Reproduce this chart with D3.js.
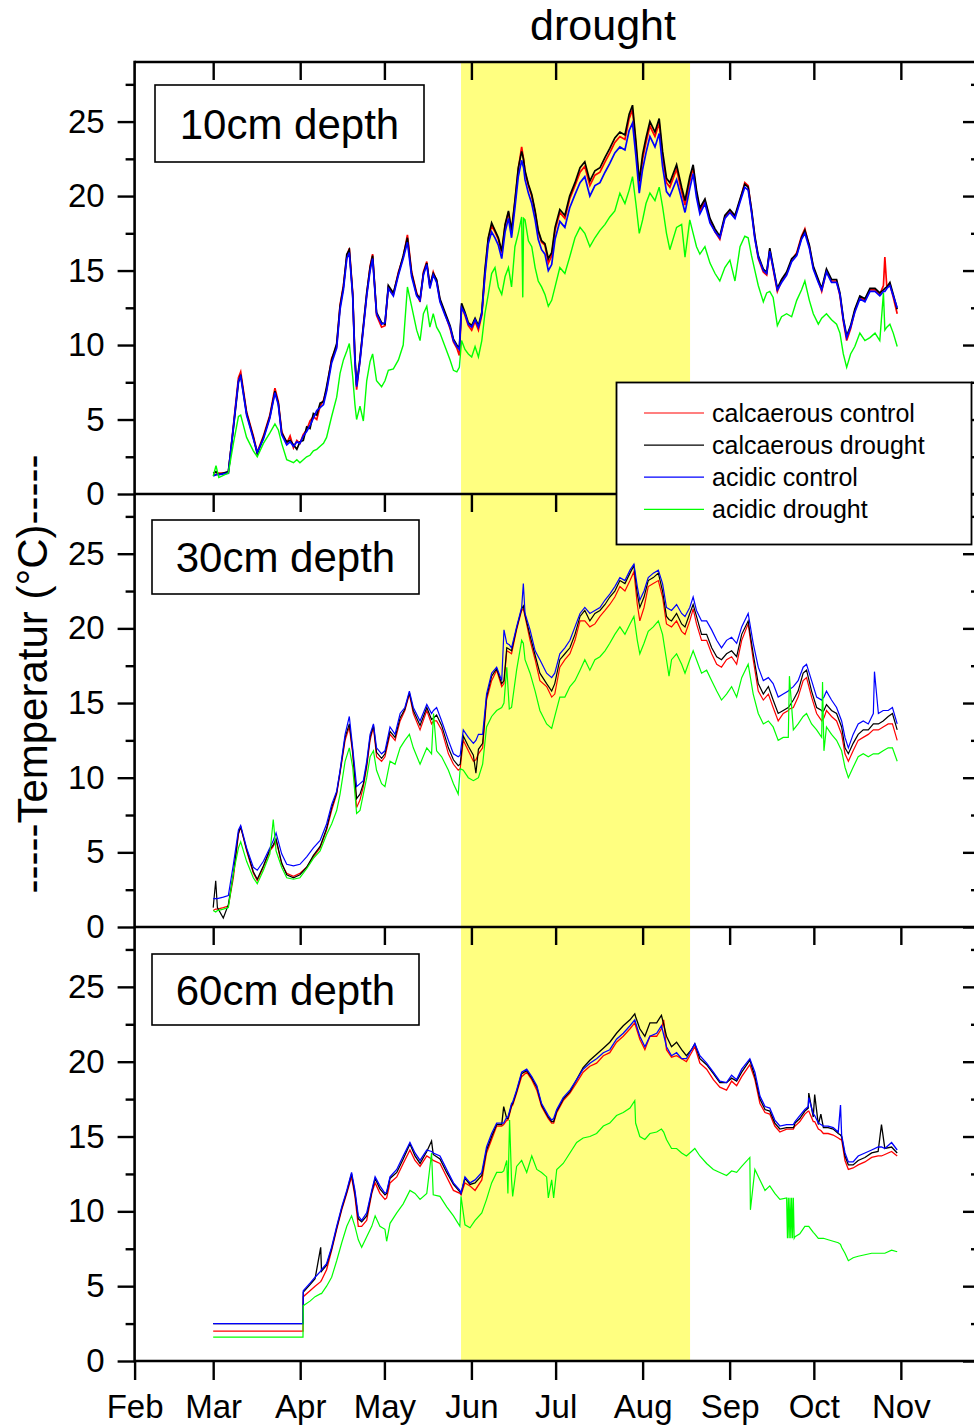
<!DOCTYPE html>
<html>
<head>
<meta charset="utf-8">
<script src="https://cdn.jsdelivr.net/npm/d3@7"></script>
<style>
  body { margin: 0; background: #fff; }
  #chart text { font-family: "Liberation Sans", Arial, sans-serif; fill: #000; }
</style>
</head>
<body>
<div id="chart"></div>
<script>
// days counted from 1 Feb
var monthLabels = ["Feb", "Mar", "Apr", "May", "Jun", "Jul", "Aug", "Sep", "Oct", "Nov"];
var yTicks = [0, 5, 10, 15, 20, 25];
var yMinor = [2.5, 7.5, 12.5, 17.5, 22.5, 27.5];
var droughtDays = [116.3, 197.9];
var seriesNames = ["calcaerous control", "calcaerous drought", "acidic control", "acidic drought"];
var depthLabels = ["10cm depth", "30cm depth", "60cm depth"];

// ---- 10 cm ----
var days10 = [28.0,29.0,30.0,33.4,35.2,37.0,37.8,39.9,42.3,43.7,45.9,48.2,50.0,51.2,52.4,54.2,55.4,56.6,57.8,58.9,60.1,61.3,62.5,63.7,64.9,66.1,67.3,68.4,70.2,72.0,73.2,74.4,75.6,76.5,77.7,78.5,79.1,80.3,81.5,82.7,83.9,84.8,86.2,88.0,89.2,90.4,92.2,94.0,95.7,97.2,98.7,100.5,101.7,102.9,104.1,105.2,106.4,107.6,108.8,110.6,112.4,113.6,114.8,115.7,116.5,117.7,118.9,120.1,121.3,122.5,123.7,124.8,126.0,127.2,128.4,129.6,130.8,132.0,133.2,134.3,135.5,136.7,137.9,138.3,138.6,139.1,140.3,141.5,142.7,143.8,145.0,146.2,147.4,148.6,149.8,151.5,153.3,155.0,156.9,158.7,160.4,162.2,164.0,165.8,167.6,169.3,171.1,172.9,174.7,176.2,177.4,178.6,179.8,181.0,182.2,183.6,185.4,186.9,188.1,189.5,190.7,193.1,194.9,196.1,197.8,199.0,200.2,201.4,203.2,205.0,206.8,208.5,210.3,212.1,213.9,215.7,217.4,218.6,219.8,221.0,222.2,224.0,225.2,226.3,227.5,229.0,230.5,232.3,234.1,235.9,237.6,238.8,240.4,241.8,243.6,244.8,246.5,248.3,250.1,251.3,252.5,253.7,255.1,256.6,258.4,260.2,262.0,263.8,265.5,266.8,267.3,268.0,269.1,270.3,271.7];
var calcControl10 = [1.3,1.3,1.4,1.4,4.6,7.8,8.2,5.5,3.9,2.8,3.9,5.3,7.1,6.2,4.2,3.4,3.9,3.1,3.6,3.4,4.0,4.3,4.9,5.2,5.0,5.9,6.3,7.0,9.1,9.9,12.7,14.0,15.9,16.5,13.5,9.0,7.0,9.0,11.2,13.4,15.3,16.1,12.0,11.2,11.3,13.9,13.4,14.9,15.9,17.4,14.9,13.5,12.9,14.9,15.6,13.9,14.9,14.3,13.0,12.1,11.1,10.2,9.8,9.3,12.6,12.0,11.3,11.0,11.6,11.0,12.0,14.8,17.1,18.0,17.6,17.1,16.2,18.0,18.9,17.6,19.6,21.8,23.3,22.8,22.5,21.6,20.7,20.0,18.9,17.6,16.9,16.7,15.5,16.0,17.7,18.9,18.5,19.8,20.7,21.6,22.0,20.7,21.4,21.6,22.3,22.9,23.6,24.0,23.8,25.2,25.8,23.4,20.7,22.5,23.6,24.7,24.0,24.9,22.7,20.9,20.6,21.8,20.3,19.4,21.0,21.9,20.2,19.0,19.7,18.4,17.6,17.1,18.6,19.0,18.6,19.7,20.9,20.7,19.0,17.2,15.8,14.9,14.7,16.4,15.1,13.6,14.3,14.8,15.7,16.2,17.3,17.8,16.6,15.2,14.3,13.6,15.0,14.3,14.3,13.3,11.6,10.3,11.1,12.3,13.2,13.0,13.7,13.7,13.4,14.0,15.9,13.9,14.1,13.2,12.1];
var calcDrought10 = [1.4,1.5,1.3,1.5,4.4,7.5,8.0,5.4,3.8,2.7,3.8,5.2,6.9,6.1,4.1,3.5,3.6,3.3,3.0,3.5,3.6,4.5,4.4,5.4,5.3,6.1,6.2,7.2,9.0,10.1,12.6,13.9,16.1,16.4,13.4,9.2,7.3,9.1,11.3,13.5,15.2,16.0,12.2,11.5,11.4,14.0,13.5,14.8,16.0,17.2,14.8,13.4,13.1,14.8,15.5,14.0,14.8,14.4,13.1,12.2,11.3,10.4,10.0,9.8,12.8,12.2,11.5,11.3,11.8,11.3,12.2,15.0,17.2,18.2,17.7,17.2,16.3,18.1,19.0,17.7,19.7,21.9,23.0,22.7,22.4,21.7,20.8,20.1,19.0,17.7,17.0,16.8,15.8,16.2,17.9,19.1,18.7,20.0,20.9,21.9,22.3,21.0,21.7,21.9,22.6,23.2,23.9,24.3,24.1,25.5,26.1,23.7,21.0,22.8,23.9,25.0,24.3,25.2,23.0,21.2,20.9,22.1,20.6,19.7,21.3,22.1,20.4,19.2,19.8,18.5,17.8,17.3,18.7,19.1,18.7,19.8,20.8,20.6,19.1,17.3,16.0,15.1,14.9,16.5,15.3,13.8,14.4,14.9,15.8,16.1,17.2,17.7,16.7,15.3,14.4,13.8,15.1,14.4,14.4,13.5,11.8,10.6,11.3,12.4,13.3,13.1,13.8,13.8,13.5,13.7,13.8,13.9,14.2,13.4,12.4];
var acidControl10 = [1.2,1.3,1.3,1.4,4.5,7.6,7.9,5.3,3.7,2.8,3.7,5.1,6.8,6.0,4.0,3.3,3.5,3.2,3.5,3.4,3.9,4.2,4.6,5.1,5.6,5.8,6.0,6.9,8.8,9.8,12.4,13.7,15.8,16.2,13.3,8.9,7.2,8.9,11.1,13.3,15.0,15.8,12.1,11.4,11.5,13.8,13.3,14.7,15.8,16.9,14.6,13.3,13.0,14.7,15.4,13.8,14.7,14.2,12.9,12.0,11.2,10.3,9.9,9.7,12.5,12.1,11.4,11.2,11.7,11.2,12.1,14.6,16.8,17.6,17.2,16.7,15.8,17.6,18.5,17.2,19.2,21.3,22.4,22.1,21.9,21.1,20.2,19.5,18.4,17.1,16.4,16.1,15.0,15.4,17.1,18.3,17.9,19.2,20.1,20.9,21.3,20.0,20.7,20.9,21.6,22.2,22.9,23.3,23.1,24.4,24.9,22.7,20.2,21.8,22.9,24.0,23.3,24.2,22.0,20.3,20.0,21.1,19.8,18.9,20.5,21.5,19.9,18.8,19.5,18.2,17.6,17.2,18.5,18.9,18.5,19.6,20.6,20.4,18.9,17.1,15.9,15.0,14.8,16.3,15.2,13.7,14.2,14.7,15.6,16.0,17.1,17.5,16.5,15.1,14.2,13.7,14.9,14.2,14.2,13.4,11.7,10.5,11.2,12.2,13.1,12.9,13.6,13.6,13.3,13.6,13.6,13.8,14.0,13.3,12.5];
var acidDrought10 = [1.2,1.9,1.1,1.4,3.4,5.2,5.3,3.8,2.9,2.5,3.4,4.1,4.7,4.3,3.4,2.3,2.2,2.1,2.3,2.1,2.3,2.5,2.6,2.9,3.0,3.2,3.4,3.8,5.2,6.5,8.1,9.0,9.6,10.1,7.9,6.0,5.0,5.9,4.9,7.6,8.9,9.4,7.6,7.2,7.6,8.3,8.4,9.0,10.0,13.9,12.6,11.0,10.3,12.1,12.6,11.2,12.1,11.2,10.8,9.9,9.0,8.3,8.2,8.5,10.3,9.7,9.4,9.2,9.9,9.2,10.3,12.1,13.4,14.8,15.2,13.9,13.4,14.6,15.2,13.9,16.6,17.5,18.6,13.2,18.5,18.4,17.0,16.6,15.2,14.3,13.9,13.4,12.6,13.0,13.9,15.2,14.8,15.9,17.2,17.9,17.5,16.6,17.2,17.7,18.1,18.6,19.0,20.2,19.5,20.4,21.3,19.5,17.5,18.4,19.5,20.2,19.7,20.6,19.3,17.5,16.4,17.9,18.1,15.9,18.4,17.5,16.6,16.1,16.6,15.5,14.8,14.3,15.2,15.7,14.3,16.6,17.3,17.2,16.0,15.0,14.0,12.9,13.5,13.6,13.2,11.3,11.9,12.1,11.9,13.0,13.7,14.3,13.0,12.1,11.4,11.8,12.1,11.7,11.4,10.8,9.4,8.5,9.4,9.9,10.8,10.3,10.5,10.8,10.3,13.5,11.0,11.2,11.4,10.8,9.9];

// ---- 30 cm ----
var days30 = [28.0,28.9,29.5,31.6,33.4,35.2,37.0,37.8,39.9,42.3,43.7,45.9,48.2,49.4,50.4,52.4,54.2,56.6,58.9,61.3,63.7,66.1,68.4,70.2,72.0,73.2,75.0,76.5,77.7,79.1,80.3,81.5,82.7,83.9,85.1,86.2,88.0,89.2,91.0,92.8,94.6,96.3,97.9,99.3,101.7,104.1,105.8,106.5,107.6,109.4,111.8,113.6,115.3,116.0,117.1,118.9,120.7,121.6,122.5,124.0,125.4,127.2,129.0,130.8,131.6,132.6,133.5,134.3,136.1,137.9,138.5,139.1,140.9,142.7,144.4,146.8,148.6,149.7,151.5,153.3,155.1,156.9,158.7,160.4,162.2,164.0,165.8,167.6,169.3,171.1,172.9,174.7,176.5,177.9,179.1,180.0,181.5,183.0,184.8,186.6,188.1,189.5,190.4,191.3,193.1,194.9,196.1,197.8,199.0,200.2,202.0,203.8,205.6,207.4,209.1,210.9,212.7,214.5,216.3,218.6,220.4,222.2,224.0,225.8,227.5,229.3,231.1,232.9,233.3,234.7,236.4,238.2,239.4,241.2,243.0,244.8,245.1,245.6,246.5,248.3,250.1,251.9,253.1,254.3,256.0,257.8,259.6,261.4,263.2,263.6,265.0,266.7,268.5,270.0,271.7];
var calcControl30 = [1.1,1.2,1.2,1.3,1.4,3.3,6.2,6.7,5.1,3.6,3.1,4.0,5.1,5.4,5.8,4.2,3.6,3.4,3.6,4.0,4.7,5.3,6.5,7.8,8.9,10.3,12.5,13.4,11.6,8.0,8.5,9.4,10.7,12.5,13.4,11.4,11.1,11.4,12.9,12.5,13.8,14.5,15.6,14.3,13.2,14.5,13.6,13.8,13.8,13.2,11.6,10.9,10.5,10.6,12.5,11.8,11.1,11.2,11.6,12.0,15.2,16.5,17.2,16.1,16.3,18.5,18.4,18.3,19.9,21.2,21.3,20.8,19.2,17.9,16.5,16.1,15.4,15.6,17.4,17.9,18.3,19.2,20.5,20.5,20.1,20.3,20.8,21.2,21.6,22.1,22.8,22.5,23.2,23.8,21.6,20.5,21.4,22.8,23.0,23.2,22.1,20.3,20.2,20.1,20.5,19.8,19.6,20.5,21.3,20.3,19.2,19.2,18.3,17.6,17.4,17.9,18.1,17.6,19.2,20.3,17.9,15.8,15.2,15.6,14.7,13.8,14.3,14.5,14.6,14.7,15.4,16.5,16.7,15.4,14.3,13.8,13.9,14.0,14.5,14.1,13.8,12.9,11.6,11.1,11.8,12.5,12.7,12.9,13.2,13.2,13.2,13.4,13.6,13.6,12.5];
var calcDrought30 = [1.3,3.1,1.3,0.6,1.5,3.6,6.3,6.7,5.2,3.7,3.2,4.1,5.2,5.5,5.9,4.3,3.5,3.3,3.5,4.0,4.8,5.4,6.6,8.0,9.0,10.4,12.7,13.6,11.8,8.6,8.9,9.6,10.9,12.7,13.5,11.7,11.3,11.6,13.1,12.7,14.0,14.6,15.7,14.5,13.5,14.7,13.9,14.0,14.2,13.5,12.0,11.2,10.8,10.9,12.8,12.1,11.5,10.3,11.9,12.3,15.4,16.8,17.3,16.3,16.5,18.7,18.6,18.5,20.0,21.3,21.5,20.9,19.5,18.2,17.0,16.3,15.8,16.3,17.9,18.3,18.7,19.6,20.8,21.2,20.5,21.0,21.2,21.6,22.1,22.5,23.2,23.0,23.7,24.2,22.3,21.4,22.1,23.2,23.4,23.7,22.5,20.8,20.6,20.5,21.0,20.3,20.1,21.0,21.6,20.8,19.6,19.6,18.7,18.1,17.9,18.3,18.5,18.1,19.6,20.5,18.3,16.3,15.6,16.1,15.2,14.3,14.5,14.7,14.8,15.2,15.8,17.0,17.2,15.8,14.7,14.5,14.4,14.5,14.9,14.5,14.3,13.4,12.0,11.6,12.3,12.9,13.2,13.2,13.6,13.6,13.6,13.8,14.1,14.3,13.2];
var acidControl30 = [1.9,1.9,1.9,2.0,2.1,4.2,6.5,6.8,5.3,4.0,3.8,4.4,5.3,5.8,6.3,4.9,4.2,4.1,4.2,4.7,5.3,5.8,6.9,8.2,9.1,10.5,12.9,14.1,12.0,9.4,9.6,9.8,11.1,12.9,13.6,12.0,11.6,11.8,13.4,12.9,14.3,14.7,15.8,14.7,13.8,14.9,14.3,14.5,14.7,13.8,12.5,11.6,11.4,11.5,13.2,12.7,12.3,12.5,12.9,12.9,15.6,17.0,17.4,16.5,19.9,19.0,18.9,18.7,20.1,21.4,23.0,21.0,19.9,18.5,17.9,17.0,16.7,17.0,18.3,18.7,19.2,20.1,21.0,21.4,21.0,21.2,21.4,21.9,22.3,22.8,23.4,23.2,23.9,24.3,22.8,21.9,22.5,23.4,23.7,23.9,23.0,21.4,21.3,21.2,21.6,21.0,20.8,21.4,22.1,21.2,20.5,20.5,19.9,19.2,18.7,19.2,19.4,19.0,20.1,21.0,19.0,17.4,16.5,16.7,16.3,15.4,15.6,15.8,15.9,16.1,16.5,17.4,17.6,16.5,15.4,15.2,15.3,15.4,15.8,15.2,14.7,13.8,12.7,12.0,12.9,13.6,13.8,13.6,14.3,17.1,14.3,14.5,14.5,14.7,13.6];
var acidDrought30 = [1.1,1.0,1.1,1.2,1.3,3.6,5.3,5.7,4.4,3.3,2.9,3.8,4.9,7.2,5.1,4.0,3.3,3.2,3.3,3.9,4.6,5.1,6.2,6.9,7.8,8.9,11.1,12.0,10.7,7.6,7.8,8.9,10.0,11.4,11.8,10.5,9.6,9.4,11.1,10.9,12.0,12.5,12.9,12.0,10.9,12.0,11.6,14.3,11.8,11.4,10.5,9.6,8.9,10.6,10.5,10.0,9.8,9.9,10.0,10.9,13.4,14.1,14.5,14.7,15.0,17.4,14.6,14.7,17.2,19.2,19.0,17.9,17.0,15.8,14.5,13.6,13.3,14.1,15.4,15.4,16.1,16.5,17.2,17.9,17.2,17.9,18.1,18.5,19.0,19.6,20.1,19.6,20.3,20.8,19.2,18.3,19.0,19.8,20.1,20.5,19.6,17.9,16.8,17.9,18.3,17.6,17.0,17.9,18.5,17.9,17.0,17.2,16.5,15.8,15.2,15.6,16.1,15.4,16.7,17.6,15.6,14.3,13.6,13.8,13.4,12.5,12.7,12.7,16.8,13.2,13.6,14.1,14.3,13.6,13.2,12.7,16.4,11.8,13.4,12.9,12.5,11.8,10.7,10.0,10.7,11.4,11.6,11.4,11.6,11.6,11.6,11.8,12.0,12.0,11.1];

// ---- 60 cm ----
var days60 = [28.0,60.0,60.1,62.5,64.3,66.3,66.6,68.4,70.2,72.0,73.8,75.6,77.3,78.5,79.7,80.9,82.7,84.5,85.7,87.4,89.2,89.8,91.0,93.4,95.7,98.1,99.9,101.7,104.1,105.8,106.4,108.8,111.2,113.6,115.9,116.3,117.7,119.5,121.3,123.7,125.4,127.2,129.0,130.8,131.5,132.6,133.0,133.6,134.3,134.7,136.1,137.9,139.7,141.5,143.3,145.0,146.8,147.4,148.6,149.3,150.4,152.7,155.1,157.5,159.8,162.2,164.6,167.0,169.3,171.7,174.1,176.5,178.2,178.5,180.0,181.8,183.6,186.0,187.7,188.5,189.5,191.3,193.1,194.9,196.6,198.4,199.6,201.4,203.8,206.2,208.5,210.9,212.7,214.5,216.3,219.2,219.4,221.0,222.8,224.6,226.3,228.1,229.9,232.3,232.6,232.9,233.2,233.5,233.8,234.1,234.4,234.7,235.0,235.3,237.0,238.8,240.0,240.2,241.8,242.3,243.6,244.5,245.4,247.1,248.9,250.7,251.5,251.9,253.1,254.3,256.0,257.8,260.2,262.6,264.9,266.1,267.3,269.7,271.7];
var calcControl60 = [2.0,2.0,4.3,4.7,5.0,5.3,5.4,6.1,7.4,8.8,10.1,11.2,12.3,11.0,9.0,9.0,9.4,11.2,11.9,11.2,10.8,10.9,11.9,12.3,13.2,14.1,13.4,13.0,13.7,13.5,13.4,13.2,12.3,11.4,11.2,11.1,11.9,11.7,11.4,12.1,13.9,14.8,15.7,15.7,15.8,16.1,16.1,16.5,17.0,17.1,17.9,19.0,19.3,18.8,18.1,17.0,16.4,16.2,15.9,15.9,16.6,17.4,17.9,18.6,19.3,19.7,19.9,20.4,20.6,21.3,21.7,22.2,22.6,22.4,21.5,20.8,21.7,21.7,22.2,22.8,20.8,20.3,20.4,20.2,20.0,20.6,21.0,19.9,19.5,18.8,18.3,18.1,18.7,18.4,19.0,19.8,19.7,18.8,17.2,16.6,16.5,15.7,15.3,15.5,15.5,15.5,15.5,15.5,15.5,15.5,15.5,15.5,15.6,15.7,16.0,16.5,16.7,16.7,16.0,16.0,15.5,15.4,15.2,15.2,15.1,14.9,14.8,14.8,13.4,12.8,12.9,13.1,13.3,13.6,13.7,13.7,13.8,14.0,13.7];
var calcDrought60 = [2.5,2.5,4.6,5.1,5.5,7.6,6.0,6.4,7.5,8.9,10.2,11.3,12.5,11.2,9.5,9.3,9.7,11.3,12.2,11.5,11.1,11.2,12.2,12.6,13.5,14.5,13.7,13.2,14.0,14.7,13.8,13.5,12.6,11.8,11.3,11.2,12.2,11.8,11.9,12.4,14.1,15.0,15.8,15.8,17.0,16.2,16.2,16.6,17.1,17.2,18.0,19.2,19.4,18.9,18.3,17.1,16.5,16.3,16.0,16.0,16.7,17.5,18.0,18.8,19.6,20.1,20.5,20.9,21.3,21.9,22.4,22.8,23.2,23.0,22.2,21.7,22.6,22.6,23.1,22.5,21.7,21.0,21.3,20.8,20.4,20.8,21.2,20.2,19.8,19.2,18.6,18.6,18.9,18.7,19.3,20.1,20.0,19.0,17.5,16.8,16.7,15.9,15.5,15.6,15.6,15.6,15.6,15.6,15.6,15.6,15.6,15.6,15.7,15.9,16.2,16.7,16.9,17.9,16.3,17.8,15.8,16.5,15.6,15.6,15.5,15.2,15.1,15.0,13.7,13.1,13.1,13.4,13.6,13.9,14.0,15.8,14.2,14.3,13.9];
var acidControl60 = [2.5,2.5,4.7,5.2,5.6,6.0,6.1,6.5,7.6,9.0,10.3,11.4,12.6,11.4,9.7,9.4,9.9,11.4,12.3,11.7,11.2,11.3,12.3,12.8,13.7,14.6,13.9,13.4,14.1,14.0,13.9,13.7,12.8,11.9,11.4,11.2,12.3,11.9,12.1,12.6,14.3,15.2,15.9,15.9,15.9,16.3,16.3,16.7,17.2,17.3,18.1,19.3,19.5,19.0,18.4,17.2,16.6,16.4,16.1,16.2,16.8,17.6,18.1,18.8,19.5,19.9,20.2,20.6,20.8,21.5,21.9,22.4,22.8,22.6,21.7,21.0,21.7,21.9,22.4,21.8,21.0,20.4,20.6,20.2,20.2,20.8,21.2,20.4,19.9,19.3,18.7,18.6,19.1,18.8,19.5,20.2,20.1,19.3,17.7,17.0,16.9,16.1,15.7,15.8,15.8,15.8,15.8,15.8,15.8,15.8,15.8,15.8,15.9,16.0,16.4,16.8,17.0,17.6,16.5,16.4,15.9,15.8,15.7,15.7,15.6,15.3,17.1,15.1,13.9,13.3,13.3,13.7,13.9,14.1,14.3,14.3,14.2,14.6,14.1];
var acidDrought60 = [1.6,1.6,3.7,4.0,4.3,4.5,4.5,5.0,5.6,6.7,7.9,9.0,9.7,9.0,8.1,7.6,8.3,9.0,9.7,9.0,8.8,8.0,9.2,9.9,10.5,11.4,11.2,10.8,11.2,13.9,11.1,11.0,10.3,9.7,9.0,11.0,9.1,8.9,9.4,9.9,10.8,11.9,12.6,12.6,12.7,13.4,11.2,16.1,12.1,11.0,13.0,13.4,12.6,13.7,12.8,12.6,12.3,10.9,12.1,10.9,12.8,13.2,13.9,14.6,14.9,15.0,15.2,15.7,15.9,16.4,16.6,16.9,17.4,15.9,15.0,14.8,15.2,15.3,15.5,15.3,14.8,14.2,14.2,13.9,13.7,14.0,14.2,13.7,13.2,12.8,12.6,12.4,12.7,12.6,13.0,13.6,10.1,12.8,12.1,11.4,11.7,11.2,10.8,10.9,8.2,10.9,8.2,10.9,8.2,10.9,8.2,10.9,8.2,8.3,8.5,9.0,9.0,9.0,8.6,8.5,8.2,8.2,8.2,8.1,8.0,7.9,7.8,7.6,7.2,6.7,6.9,7.0,7.1,7.2,7.2,7.2,7.2,7.4,7.3];

var seriesColors = ["#ff0000", "#000000", "#0000ff", "#00ff00"];
var panelStroke = [[1.7, 1.7, 1.7, 1.4], [1.2, 1.2, 1.2, 1.2], [1.3, 1.3, 1.3, 1.2]];

function drawSoilTemps(placement, w, h) {
    var left = 134.6, right = 980;
    var panelTops = [62, 494, 927], panelBottoms = [494, 927, 1361];
    var base = Date.UTC(2013, 1, 1);
    function dayToDate(d) { return new Date(base + d * 864e5); }

    var svg = d3.select(placement).append("svg")
        .attr("width", w).attr("height", h);

    var x = d3.scaleUtc()
        .domain([dayToDate(0), dayToDate(301.2)])
        .range([left, right]);
    var monthStarts = d3.utcMonth.range(dayToDate(0), dayToDate(274));

    // drought band
    svg.append("rect")
        .attr("x", x(dayToDate(droughtDays[0])))
        .attr("y", panelTops[0])
        .attr("width", x(dayToDate(droughtDays[1])) - x(dayToDate(droughtDays[0])))
        .attr("height", panelBottoms[2] - panelTops[0])
        .style("fill", "#ffff80");

    svg.append("text")
        .attr("x", 603).attr("y", 40)
        .attr("text-anchor", "middle")
        .attr("font-size", "43px")
        .text("drought");

    var panels = [
        {days: days10, series: [calcControl10, calcDrought10, acidControl10, acidDrought10]},
        {days: days30, series: [calcControl30, calcDrought30, acidControl30, acidDrought30]},
        {days: days60, series: [calcControl60, calcDrought60, acidControl60, acidDrought60]}
    ];
    var labelBoxes = [[155, 85, 269, 77], [152, 520, 267, 74], [152, 954, 267, 71]];

    panels.forEach(function(p, pi) {
        var top = panelTops[pi], bottom = panelBottoms[pi];
        var y = d3.scaleLinear().domain([0, 29]).range([bottom, top]);
        var dates = p.days.map(dayToDate);

        var line = d3.line()
            .x(function(d, i) { return x(dates[i]); })
            .y(function(d) { return y(d); });

        var g = svg.append("g").attr("class", "panel");
        p.series.forEach(function(vals, si) {
            g.append("path")
                .attr("d", line(vals))
                .style("fill", "none")
                .style("stroke", seriesColors[si])
                .style("stroke-width", panelStroke[pi][si])
                .style("stroke-linejoin", "miter");
        });

        // left axis
        svg.append("g")
            .attr("class", "axis")
            .attr("transform", "translate(" + left + ",0)")
            .call(d3.axisLeft(y).tickValues(yTicks).tickSize(17).tickPadding(13))
            .call(function(a) { a.select(".domain").remove(); })
            .selectAll("text").attr("font-size", "33px");
        svg.append("g")
            .attr("class", "axis")
            .attr("transform", "translate(" + left + ",0)")
            .call(d3.axisLeft(y).tickValues(yMinor).tickSize(9).tickFormat(""))
            .call(function(a) { a.select(".domain").remove(); });

        // right axis (ticks inside)
        svg.append("g")
            .attr("class", "axis")
            .attr("transform", "translate(" + right + ",0)")
            .call(d3.axisLeft(y).tickValues(yTicks).tickSize(17).tickFormat(""))
            .call(function(a) { a.select(".domain").remove(); });
        svg.append("g")
            .attr("class", "axis")
            .attr("transform", "translate(" + right + ",0)")
            .call(d3.axisLeft(y).tickValues(yMinor).tickSize(9).tickFormat(""))
            .call(function(a) { a.select(".domain").remove(); });

        // top ticks pointing in
        svg.append("g")
            .attr("class", "axis")
            .attr("transform", "translate(0," + top + ")")
            .call(d3.axisBottom(x).tickValues(monthStarts.slice(1)).tickSize(18).tickFormat(""))
            .call(function(a) { a.select(".domain").remove(); });

        // depth label box
        var b = labelBoxes[pi];
        svg.append("rect")
            .attr("x", b[0]).attr("y", b[1]).attr("width", b[2]).attr("height", b[3])
            .style("fill", "#fff").style("stroke", "#000").style("stroke-width", 1.6);
        svg.append("text")
            .attr("x", b[0] + b[2] / 2).attr("y", b[1] + b[3] / 2)
            .attr("dy", "0.36em")
            .attr("text-anchor", "middle")
            .attr("font-size", "42px")
            .text(depthLabels[pi]);
    });

    // bottom month axis
    svg.append("g")
        .attr("class", "axis")
        .attr("transform", "translate(0," + panelBottoms[2] + ")")
        .call(d3.axisBottom(x).tickValues(monthStarts).tickSize(19).tickPadding(15)
            .tickFormat(function(d, i) { return monthLabels[i]; }))
        .call(function(a) { a.select(".domain").remove(); })
        .selectAll("text").attr("font-size", "33px");

    svg.selectAll(".axis line").style("stroke", "#000").style("stroke-width", 2.4);

    // frame lines
    var frame = svg.append("g").style("stroke", "#000").style("stroke-width", 2.6);
    frame.append("line").attr("x1", left).attr("x2", left).attr("y1", panelTops[0] - 1.3).attr("y2", panelBottoms[2] + 1.3);
    frame.append("line").attr("x1", right).attr("x2", right).attr("y1", panelTops[0]).attr("y2", panelBottoms[2]);
    [panelTops[0]].concat(panelBottoms).forEach(function(yy) {
        frame.append("line").attr("x1", left).attr("x2", right).attr("y1", yy).attr("y2", yy);
    });

    // legend
    var lg = svg.append("g").attr("class", "legend");
    lg.append("rect")
        .attr("x", 616.5).attr("y", 382.5).attr("width", 355).attr("height", 162)
        .style("fill", "#fff").style("stroke", "#000").style("stroke-width", 1.8);
    seriesNames.forEach(function(name, i) {
        var yy = 413 + i * 32.1;
        lg.append("line")
            .attr("x1", 644).attr("x2", 704).attr("y1", yy).attr("y2", yy)
            .style("stroke", seriesColors[i]).style("stroke-width", 1.2);
        lg.append("text")
            .attr("x", 712).attr("y", yy).attr("dy", "0.35em")
            .attr("font-size", "25px")
            .text(name);
    });

    // y title
    svg.append("text")
        .attr("transform", "translate(47,674) rotate(-90)")
        .attr("text-anchor", "middle")
        .attr("font-size", "42px")
        .text("-----Temperatur (\u00B0C)-----");
}

drawSoilTemps("#chart", 974, 1427);
</script>
</body>
</html>
